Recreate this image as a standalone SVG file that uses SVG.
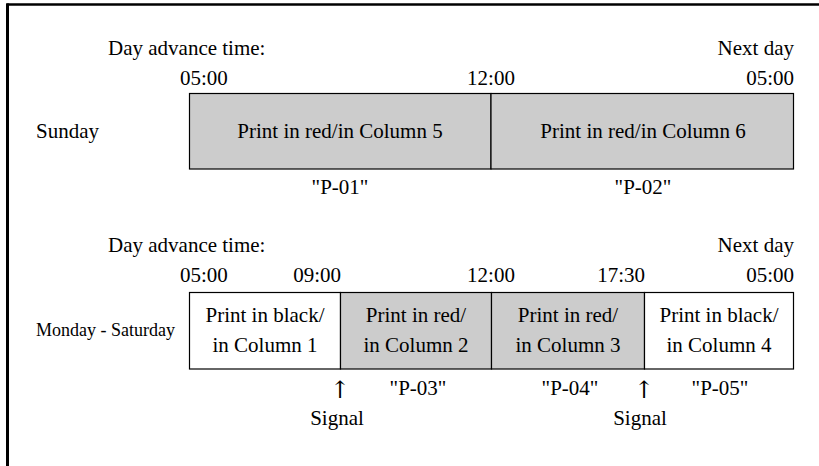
<svg xmlns="http://www.w3.org/2000/svg" width="819" height="466" viewBox="0 0 819 466">
<style>
text{font-family:"Liberation Serif","Times New Roman",serif;font-size:21px;fill:#000}
.s{font-size:18px}
.m{text-anchor:middle}
.e{text-anchor:end}
.a{font-family:"DejaVu Serif","Liberation Serif",serif;font-size:24px}
.g{fill:#cccccc;stroke:#000;stroke-width:1.2}
.w{fill:#ffffff;stroke:#000;stroke-width:1.2}
</style>
<rect width="819" height="466" fill="#fff"/>
<g id="frame" fill="none" stroke="#000">
<path d="M6.5 4.5H819" stroke-width="2.5"/>
<path d="M7.5 3.5V466" stroke-width="3"/>
</g>
<g id="sunday">
<text x="108" y="55">Day advance time:</text>
<text class="e" x="794" y="55">Next day</text>
<text x="180" y="85">05:00</text>
<text class="m" x="491" y="85">12:00</text>
<text class="e" x="794" y="85">05:00</text>
<text x="36" y="138">Sunday</text>
</g>
<g id="p01">
<rect class="g" x="189.5" y="93.5" width="301.5" height="75.5"/>
<text class="m" x="340" y="138">Print in red/in Column 5</text>
<text class="m" x="340" y="194">"P-01"</text>
</g>
<g id="p02">
<rect class="g" x="491" y="93.5" width="302.5" height="75.5"/>
<text class="m" x="643" y="138">Print in red/in Column 6</text>
<text class="m" x="643" y="194">"P-02"</text>
</g>
<g id="weekday">
<text x="108" y="252">Day advance time:</text>
<text class="e" x="794" y="252">Next day</text>
<text x="180" y="282">05:00</text>
<text class="e" x="341" y="282">09:00</text>
<text class="m" x="491" y="282">12:00</text>
<text class="e" x="645" y="282">17:30</text>
<text class="e" x="794" y="282">05:00</text>
<text class="s" x="36" y="336">Monday - Saturday</text>
</g>
<g id="col1">
<rect class="w" x="189.5" y="292.5" width="151" height="76.5"/>
<text class="m" x="265" y="322">Print in black/</text>
<text class="m" x="265" y="352">in Column 1</text>
</g>
<g id="p03">
<rect class="g" x="340.5" y="292.5" width="151" height="76.5"/>
<text class="m" x="416" y="322">Print in red/</text>
<text class="m" x="416" y="352">in Column 2</text>
<text class="m" x="418" y="395">"P-03"</text>
</g>
<g id="p04">
<rect class="g" x="491.5" y="292.5" width="153" height="76.5"/>
<text class="m" x="568" y="322">Print in red/</text>
<text class="m" x="568" y="352">in Column 3</text>
<text class="m" x="570" y="395">"P-04"</text>
</g>
<g id="col4">
<rect class="w" x="644.5" y="292.5" width="149" height="76.5"/>
<text class="m" x="719" y="322">Print in black/</text>
<text class="m" x="719" y="352">in Column 4</text>
<text class="m" x="720" y="395">"P-05"</text>
</g>
<g id="signals">
<text class="m a" x="340" y="398">↑</text>
<text class="m" x="337" y="425">Signal</text>
<text class="m a" x="644" y="398">↑</text>
<text class="m" x="640" y="425">Signal</text>
</g>
</svg>
